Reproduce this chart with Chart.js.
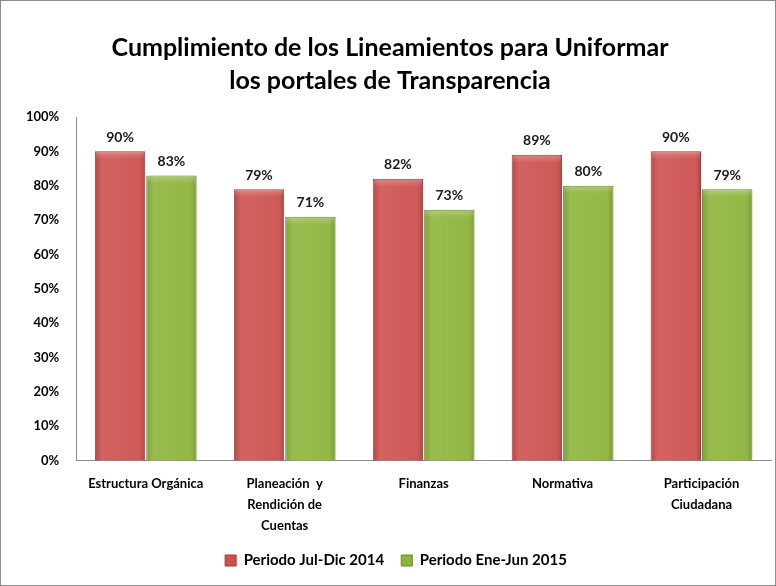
<!DOCTYPE html>
<html>
<head>
<meta charset="utf-8">
<script src="https://cdn.jsdelivr.net/npm/chart.js@4"></script>
<style>
  body { margin: 0; background: #fff; }
  #wrap { width: 774px; height: 584px; border: 1px solid #8c8c8c; position: relative; }
</style>
</head>
<body>
<div id="wrap"><canvas id="myChart" width="774" height="584"></canvas></div>
<script>
const categories = [
  'Estructura Orgánica',
  ['Planeación  y', 'Rendición de', 'Cuentas'],
  'Finanzas',
  'Normativa',
  ['Participación', 'Ciudadana']
];
const periodo2014 = [90, 79, 82, 89, 90];
const periodo2015 = [83, 71, 73, 80, 79];
const seriesNames = ['Periodo Jul-Dic 2014', 'Periodo Ene-Jun 2015'];

const FONT = 'Lato, "Open Sans", sans-serif';

// labels on top of bars
const barLabels = {
  id: 'barLabels',
  afterDatasetsDraw(chart) {
    const ctx = chart.ctx;
    ctx.save();
    ctx.font = 'bold 14px ' + FONT;
    ctx.fillStyle = '#1a1a1a';
    ctx.textAlign = 'center';
    ctx.textBaseline = 'bottom';
    chart.data.datasets.forEach((ds, i) => {
      chart.getDatasetMeta(i).data.forEach((bar, j) => {
        ctx.fillText(ds.data[j] + '%', bar.x, bar.y - 7);
      });
    });
    ctx.restore();
  }
};

// soft shine on each bar
const barShine = {
  id: 'barShine',
  afterDatasetsDraw(chart) {
    const ctx = chart.ctx;
    ctx.save();
    chart.data.datasets.forEach((ds, i) => {
      chart.getDatasetMeta(i).data.forEach(bar => {
        const w = bar.width, left = bar.x - w / 2, h = bar.base - bar.y;
        const g = ctx.createLinearGradient(left, 0, left + w, 0);
        g.addColorStop(0, 'rgba(0,0,0,0.12)');
        g.addColorStop(0.15, 'rgba(255,255,255,0.10)');
        g.addColorStop(0.85, 'rgba(255,255,255,0.05)');
        g.addColorStop(1, 'rgba(0,0,0,0.18)');
        ctx.fillStyle = g;
        ctx.fillRect(left + 1, bar.y + 1, w - 2, h - 1);
        const t = ctx.createLinearGradient(0, bar.y, 0, bar.y + 8);
        t.addColorStop(0, 'rgba(255,255,255,0.25)');
        t.addColorStop(1, 'rgba(255,255,255,0)');
        ctx.fillStyle = t;
        ctx.fillRect(left + 1, bar.y + 1, w - 2, 8);
      });
    });
    ctx.restore();
  }
};

// nudge the legend a bit to the right, like the original
const legendShift = {
  id: 'legendShift',
  afterLayout(chart) {
    chart.legend.left += 6;
    chart.legend.right += 6;
  }
};

const ctx = document.getElementById('myChart').getContext('2d');
const myChart = new Chart(ctx, {
  type: 'bar',
  data: {
    labels: categories,
    datasets: [
      {
        label: seriesNames[0],
        data: periodo2014,
        backgroundColor: '#CD514F',
        borderColor: '#9E3B39',
        borderWidth: 1,
        barPercentage: 0.98,
        categoryPercentage: 0.74
      },
      {
        label: seriesNames[1],
        data: periodo2015,
        backgroundColor: '#8DB43C',
        borderColor: '#66862A',
        borderWidth: 1,
        barPercentage: 0.98,
        categoryPercentage: 0.74
      }
    ]
  },
  plugins: [barShine, barLabels, legendShift],
  options: {
    responsive: false,
    animation: false,
    layout: { padding: { left: 8, right: 4, top: 4, bottom: 7 } },
    plugins: {
      title: {
        display: true,
        text: ['Cumplimiento de los Lineamientos para Uniformar', 'los portales de Transparencia'],
        color: '#000',
        font: { family: FONT, size: 25, weight: 'bold', lineHeight: 1.3 },
        padding: { top: 27, bottom: 20 }
      },
      legend: {
        position: 'bottom',
        labels: {
          color: '#000',
          font: { family: FONT, size: 15, weight: 'bold' },
          boxWidth: 11,
          boxHeight: 11,
          padding: 4,
          generateLabels(chart) {
            const items = Chart.defaults.plugins.legend.labels.generateLabels(chart);
            items[0].text += '\u2003\u2009';
            return items;
          }
        }
      },
      tooltip: { enabled: false }
    },
    scales: {
      x: {
        grid: { display: false, drawTicks: false },
        border: { color: '#8c8c8c' },
        ticks: {
          color: '#000',
          font: { family: FONT, size: 13, weight: 'bold', lineHeight: 1.65 },
          padding: 12,
          maxRotation: 0,
          autoSkip: false
        }
      },
      y: {
        min: 0,
        max: 100,
        grid: { display: false, drawTicks: false },
        border: { color: '#8c8c8c' },
        ticks: {
          stepSize: 10,
          color: '#000',
          font: { family: FONT, size: 13, weight: 'bold' },
          padding: 17,
          callback: v => v + '%'
        }
      }
    }
  }
});
</script>
</body>
</html>
